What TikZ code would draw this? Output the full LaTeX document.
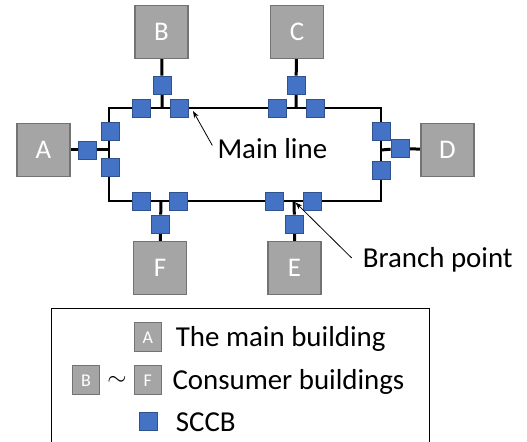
\documentclass[tikz,border=0pt]{standalone}
\usepackage{fontspec}
\setmainfont{Carlito}
\usetikzlibrary{arrows.meta,backgrounds}
\definecolor{bldfill}{HTML}{A5A5A5}
\definecolor{bldedge}{HTML}{737373}
\definecolor{sccbfill}{HTML}{4472C4}
\definecolor{sccbedge}{HTML}{2F528F}
\begin{document}
\begin{tikzpicture}[x=1bp,y=-1bp,
  bld/.style={draw=bldedge,fill=bldfill,line width=1.2bp,minimum size=53bp,inner sep=0pt,
    text=white,font=\fontsize{27}{27}\selectfont},
  sccb/.style={draw=sccbedge,fill=sccbfill,line width=0.8bp,minimum size=18bp,inner sep=0pt},
  mainline/.style={line width=2bp},
  branch/.style={line width=3bp},
  lbl/.style={font=\fontsize{29}{31}\selectfont,inner sep=0pt,anchor=base west},
  pointer/.style={line width=0.8bp,-{Stealth[length=7bp,width=5bp]}},
  legbld/.style={draw=bldedge,fill=bldfill,line width=1bp,minimum width=27bp,minimum height=29bp,
    inner sep=0pt,text=white,font=\fontsize{18}{18}\selectfont}]
\path[use as bounding box] (0,0) rectangle (527,442);
\clip (0,0) rectangle (527,442);

% corners of the main loop and branch points
\coordinate (tl) at (109,108);
\coordinate (tr) at (381,108);
\coordinate (br) at (381,201);
\coordinate (bl) at (109,201);
\coordinate (jB) at (162,108);
\coordinate (jC) at (296,108);
\coordinate (jA) at (109,150);
\coordinate (jD) at (381,150);
\coordinate (jF) at (161,201);
\coordinate (jE) at (294,201);

% buildings
\node[bld] (A) at (43.5,150) {A};
\node[bld] (B) at (161.5,32) {B};
\node[bld] (C) at (297,32) {C};
\node[bld] (D) at (447.5,150) {D};
\node[bld] (E) at (294.5,268) {E};
\node[bld] (F) at (160,268) {F};

% SCCBs on the building branches
\node[sccb] (sA) at (87.5,150) {};
\node[sccb] (sB) at (162,85) {};
\node[sccb] (sC) at (296,85) {};
\node[sccb] (sD) at (400,148.5) {};
\node[sccb] (sE) at (294.5,224) {};
\node[sccb] (sF) at (160.5,224) {};

% SCCBs on the main line
\node[sccb] (t1) at (141,108) {};
\node[sccb] (t2) at (179,108) {};
\node[sccb] (t3) at (277,108) {};
\node[sccb] (t4) at (315,108) {};
\node[sccb] (l1) at (110,131) {};
\node[sccb] (l2) at (110,167.5) {};
\node[sccb] (r1) at (381,131) {};
\node[sccb] (r2) at (381,170) {};
\node[sccb] (b1) at (141,201) {};
\node[sccb] (b2) at (178.5,201) {};
\node[sccb] (b3) at (274,201) {};
\node[sccb] (b4) at (312,201) {};

\begin{scope}[on background layer]
  \draw[mainline] (tl) -- (tr) -- (br) -- (bl) -- cycle;
  \draw[branch] (A) -- (sA) -- (jA);
  \draw[branch] (B) -- (sB) -- (jB);
  \draw[branch] (C) -- (sC) -- (jC);
  \draw[branch] (D) -- (sD) -- (jD);
  \draw[branch] (E) -- (sE) -- (jE);
  \draw[branch] (F) -- (sF) -- (jF);
\end{scope}

% callouts
\node[lbl] (mainlbl) at (217.3,158.3) {Main line};
\coordinate (mtip) at (193,111);
\draw[pointer] ([shift={(-5,-3)}]mainlbl.west) -- (mtip);

\node[lbl] (brlbl) at (362.7,267.7) {Branch point};
\coordinate (btip) at (295.5,202.5);
\draw[pointer] ([shift={(-11,-2)}]brlbl.west) -- (btip);

% legend
\draw[line width=1bp] (51.7,308.3) rectangle (429.7,470);
\node[legbld] (kA) at (147.7,337.3) {A};
\node[lbl] (tA) at (175.7,346.5) {The main building};
\node[legbld] (kB) at (86,380.3) {B};
\node (kT) at (117,381) {\fontsize{32}{32}\selectfont$\sim$};
\node[legbld] (kF) at (147.7,380.3) {F};
\node[lbl] (tB) at (172.3,389) {Consumer buildings};
\node[sccb] (kS) at (148.2,421.5) {};
\node[lbl] (tS) at (175.7,431) {SCCB};
\end{tikzpicture}
\end{document}
